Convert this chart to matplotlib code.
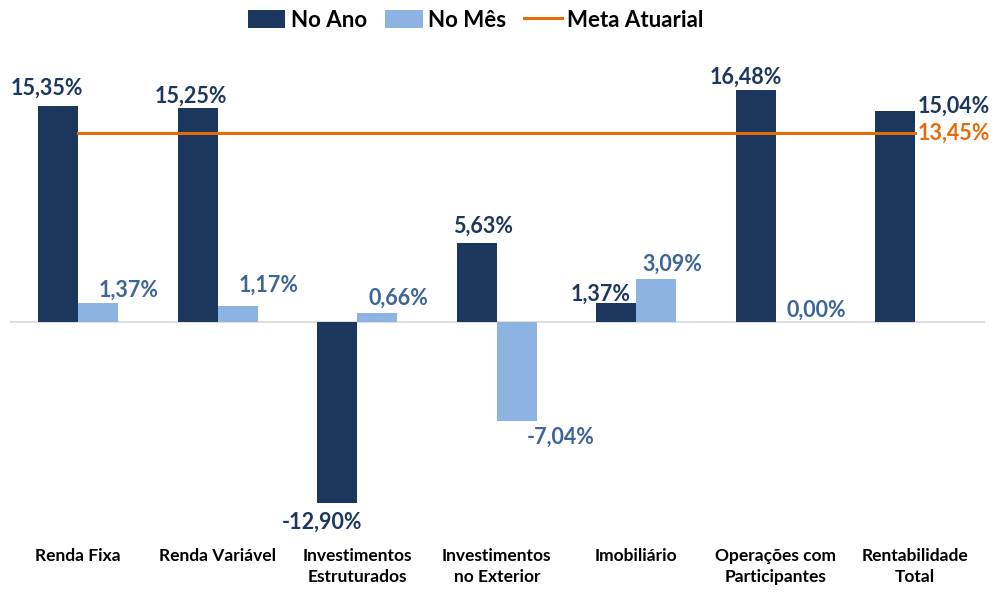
import numpy as np
import matplotlib

matplotlib.use("Agg")
import matplotlib.pyplot as plt
from matplotlib.patches import Patch
from matplotlib.lines import Line2D

plt.rcParams["font.family"] = ["Lato", "DejaVu Sans"]
plt.rcParams["font.weight"] = "bold"

# Data
categories = [
    "Renda Fixa",
    "Renda Variável",
    "Investimentos\nEstruturados",
    "Investimentos\nno Exterior",
    "Imobiliário",
    "Operações com\nParticipantes",
    "Rentabilidade\nTotal",
]
no_ano = [15.35, 15.25, -12.90, 5.63, 1.37, 16.48, 15.04]
no_mes = [1.37, 1.17, 0.66, -7.04, 3.09, 0.00, np.nan]
meta_atuarial = 13.45

# Styles
c_ano = "#1B375E"
c_mes = "#8DB3E2"
c_mes_txt = "#3D6598"
c_meta = "#E36C0A"

# label offsets in pixels (dx, dy) from bar end
off_ano = [(-11, 18), (-7, 11), (-15, -19), (6, 17), (-16, 9), (-10, 13), (58, 4)]
off_mes = [(30, 13), (31, 20), (21, 15), (44, -16), (16, 14), (20, 12), (0, 0)]

fig = plt.figure(figsize=(9.95, 5.93), dpi=100)
ax = fig.add_axes([0.01, 0.125, 0.98, 0.735])

x = np.arange(len(categories))
w = 0.287

bars_ano = ax.bar(x - w / 2, no_ano, w, color=c_ano, zorder=2)
bars_mes = ax.bar(x + w / 2, no_mes, w, color=c_mes, zorder=2)
ax.plot(x, [meta_atuarial] * len(x), color=c_meta, linewidth=2.2, zorder=3)

ax.axhline(0, color="#D9D9D9", linewidth=1.2, zorder=1)


def fmt(v):
    return f"{v:.2f}%".replace(".", ",")


lbl_size = 15.5
for i, b in enumerate(bars_ano):
    v = no_ano[i]
    ax.annotate(fmt(v), (b.get_x() + b.get_width() / 2, v),
                xytext=off_ano[i], textcoords="offset pixels",
                ha="center", va="center", fontsize=lbl_size, fontweight="bold",
                color=c_ano, zorder=4)

for i, b in enumerate(bars_mes):
    v = no_mes[i]
    if np.isnan(v):
        continue
    ax.annotate(fmt(v), (b.get_x() + b.get_width() / 2, v),
                xytext=off_mes[i], textcoords="offset pixels",
                ha="center", va="center", fontsize=lbl_size, fontweight="bold",
                color=c_mes_txt, zorder=4)

ax.annotate(fmt(meta_atuarial), (x[-1], meta_atuarial),
            xytext=(38, 0), textcoords="offset pixels",
            ha="center", va="center", fontsize=lbl_size, fontweight="bold",
            color=c_meta, zorder=4)

ax.set_xlim(-0.49, 6.5)
ax.set_ylim(-14, 17)
ax.set_xticks(x)
ax.set_xticklabels(categories, fontsize=12.5, fontweight="bold", color="black",
                   linespacing=1.4)
ax.tick_params(axis="x", length=0, pad=21)
ax.set_yticks([])
for s in ax.spines.values():
    s.set_visible(False)

handles = [
    Patch(facecolor=c_ano, label="No Ano"),
    Patch(facecolor=c_mes, label="No Mês"),
    Line2D([0], [0], color=c_meta, linewidth=2.2, label="Meta Atuarial"),
]
fig.legend(handles=handles, loc="upper center", bbox_to_anchor=(0.478, 1.017),
           ncol=3, frameon=False, prop={"size": 16, "weight": "bold"},
           handlelength=1.7, handleheight=0.9, handletextpad=0.25,
           columnspacing=0.8)

fig.savefig("out.png", dpi=100)
